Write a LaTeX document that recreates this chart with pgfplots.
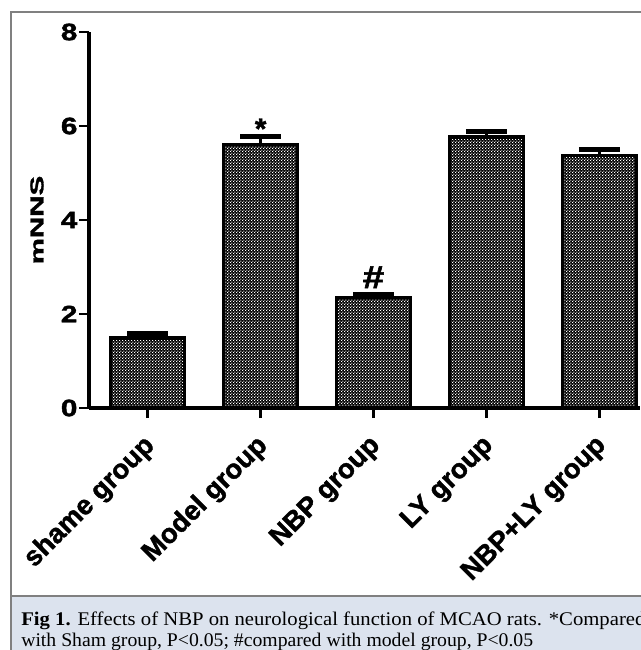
\documentclass[border=0pt]{standalone}
\usepackage{fontspec}
\setmainfont{Liberation Serif}
\newfontfamily\sansf{Liberation Sans}[BoldFeatures={FakeBold=1.5}]
\usepackage{pgfplots}
\pgfplotsset{compat=1.18}
\usetikzlibrary{patterns}
\pgfdeclarepatternformonly{whitedots}{\pgfqpoint{0pt}{0pt}}{\pgfqpoint{2.5pt}{2.5pt}}{\pgfqpoint{2.5pt}{2.5pt}}{%
  \pgfpathrectangle{\pgfqpoint{0pt}{0pt}}{\pgfqpoint{0.9pt}{0.9pt}}%
  \pgfpathrectangle{\pgfqpoint{1.25pt}{1.25pt}}{\pgfqpoint{0.9pt}{0.9pt}}%
  \pgfusepath{fill}}
\definecolor{capbg}{HTML}{DCE3EE}
\definecolor{framegray}{HTML}{808080}
\begin{document}
\begin{tikzpicture}
\useasboundingbox (0,0) rectangle (480.75pt,-487.5pt);
\clip (0,0) rectangle (480.75pt,-487.5pt);
\fill[capbg] (8.25pt,-447pt) rectangle (500pt,-500pt);
\draw[framegray, line width=0.8pt] (8.25pt,-500pt) -- (8.25pt,-9pt) -- (500pt,-9pt);
\draw[framegray, line width=0.8pt] (8.25pt,-447pt) -- (500pt,-447pt);
\begin{axis}[
  at={(66.75pt,-306pt)}, anchor=south west,
  scale only axis, width=413.25pt, height=282pt,
  xmin=-0.52, xmax=4.36, ymin=0, ymax=8,
  axis lines*=left, clip=false,
  axis line style={line width=2.4pt, black},
  tick style={line width=2pt, black},
  tick align=outside, major tick length=7.5pt,
  ytick={0,2,4,6,8},
  /pgf/number format/assume math mode=true,
  yticklabel={\scalebox{1.25}[1]{\pgfmathprintnumber{\tick}}},
  yticklabel style={font=\sansf\bfseries\fontsize{17.8}{18}\selectfont, inner sep=1pt},
  xtick={0,1,2,3,4},
  xticklabels={shame group, Model group, NBP group, LY group, NBP+LY group},
  xticklabel style={font=\sansf\bfseries\fontsize{20.5}{21}\selectfont, xshift=3pt, yshift=-17pt, rotate=45, anchor=east, inner sep=1pt},
  ylabel={\scalebox{1.58}[1]{mNNS}},
  every axis y label/.style={at={(axis description cs:-0.0944,0.5)}, rotate=90, anchor=center,
    font=\sansf\bfseries\fontsize{14}{15}\selectfont},
]
\addplot[ybar, bar width=55.5pt, draw=black, line width=2.6pt, fill=black,
  postaction={pattern=whitedots, pattern color=white},
  error bars/.cd, y dir=plus, y explicit,
  error bar style={line width=2.25pt, black},
  error mark options={rotate=90, mark size=15.4pt, line width=3.75pt, black}]
  coordinates {
    (0,1.49) +- (0,0.09)
    (1,5.61) +- (0,0.16)
    (2,2.35) +- (0,0.07)
    (3,5.77) +- (0,0.11)
    (4,5.37) +- (0,0.14)
  };
\node[anchor=base, inner sep=0pt, font=\sansf\bfseries\fontsize{22}{22}\selectfont] at (axis cs:1,5.73) {*};
\node[anchor=base, inner sep=0pt, font=\sansf\bfseries\fontsize{24}{24}\selectfont] at (axis cs:2,2.55) {\scalebox{1.2}[1]{\#}};
\end{axis}
\node[anchor=base west, inner sep=0pt, font=\fontsize{14.5}{16}\selectfont] at (15.75pt,-468.75pt)
  {\scalebox{1.07}[1]{\textbf{Fig 1.} Effects of NBP on neurological function of MCAO rats. *Compared}};
\node[anchor=base west, inner sep=0pt, font=\fontsize{14.5}{16}\selectfont] at (15.75pt,-484.5pt)
  {\scalebox{1.02}[1]{with Sham group, P<0.05; \#compared with model group, P<0.05}};
\end{tikzpicture}
\end{document}
